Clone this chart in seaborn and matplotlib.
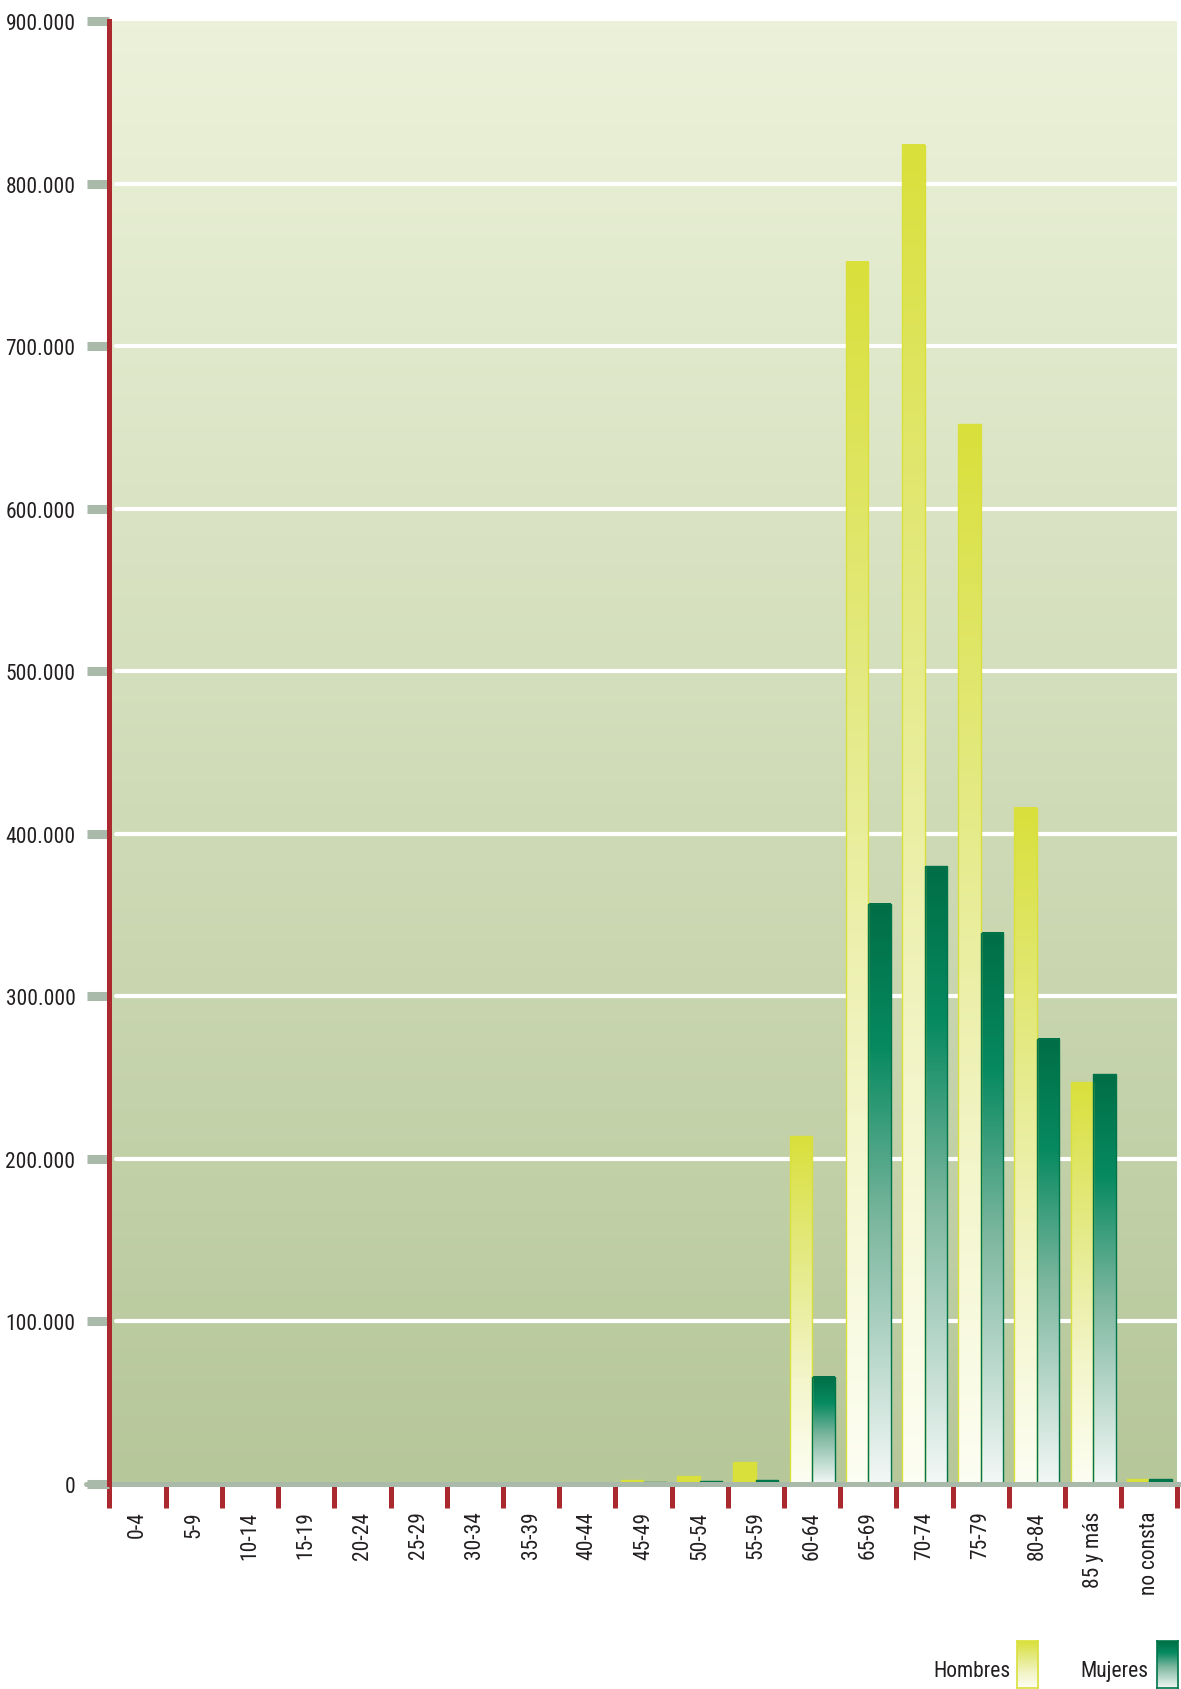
import os
import re
import numpy as np
import pandas as pd
import matplotlib
matplotlib.use('Agg')
import matplotlib.pyplot as plt
from matplotlib import font_manager
from matplotlib.colors import LinearSegmentedColormap
from matplotlib.ticker import FixedLocator, FuncFormatter
import seaborn as sns

### data
edades = ['0-4', '5-9', '10-14', '15-19', '20-24', '25-29', '30-34', '35-39',
          '40-44', '45-49', '50-54', '55-59', '60-64', '65-69', '70-74',
          '75-79', '80-84', '85 y más', 'no consta']
hombres = [0, 0, 0, 0, 0, 0, 0, 0, 0, 2500, 4700, 13700, 214000, 752000,
           824000, 652000, 416000, 247000, 3000]
mujeres = [0, 0, 0, 0, 0, 0, 0, 0, 0, 1000, 1800, 2500, 66000, 357000,
           380000, 339000, 274000, 252000, 3000]
sexos = ['Hombres', 'Mujeres']
y_ticks = [0, 100000, 200000, 300000, 400000, 500000, 600000, 700000, 800000, 900000]

df = pd.DataFrame({
    'edad': edades * 2,
    'valor': hombres + mujeres,
    'sexo': ['Hombres'] * len(edades) + ['Mujeres'] * len(edades),
})

### colours
amarillo = '#D9E03B'
verde = '#00744A'
rojo = '#A9292F'
gris = '#A9BAAA'
texto = '#231F20'

cmap_h = LinearSegmentedColormap.from_list(
    'h', [(0, '#FDFEF3'), (0.3, '#F3F5CA'), (0.6, '#E6EB8E'), (1, amarillo)])
cmap_m = LinearSegmentedColormap.from_list(
    'm', [(0, '#F3F8F6'), (0.45, '#7DB7A0'), (0.75, '#078A60'), (1, '#006E46')])
cmap_bg = LinearSegmentedColormap.from_list('bg', ['#B6C79A', '#ECF2D9'])

sns.set_theme(style='white')
plt.rcParams['font.family'] = ['Liberation Sans', 'DejaVu Sans']

### look for a condensed font, else a plain one
narrow_file = None
for f in font_manager.fontManager.ttflist:
    base = os.path.basename(f.fname).lower()
    if re.search(r'condensed|narrow', base) and not re.search(
            r'bold|italic|light|thin|black|oblique|semi|extra|medium|ultra', base):
        narrow_file = f.fname
        if 'liberation' in base or 'roboto' in base or 'noto' in base:
            break

if narrow_file:
    fs = 15.5
    def fp():
        return font_manager.FontProperties(fname=narrow_file, size=fs)
else:
    fs = 13.5
    def fp():
        return font_manager.FontProperties(family=['Liberation Sans', 'DejaVu Sans'], size=fs)

fig = plt.figure(figsize=(11.81, 16.90), dpi=100)
ax = fig.add_axes([0.0927, 0.1213, 0.9043, 0.8657])

sns.barplot(data=df, x='edad', y='valor', hue='sexo', hue_order=sexos,
            palette=[amarillo, verde], width=0.8, saturation=1,
            legend=False, ax=ax, zorder=3)

grad = np.linspace(0, 1, 256).reshape(-1, 1)

### per bar vertical gradient (small bars stay solid)
for cont, cm, col in zip(ax.containers, [cmap_h, cmap_m], [amarillo, verde]):
    for p in cont.patches:
        h = p.get_height()
        if h <= 0:
            p.set_visible(False)
            continue
        p.set_edgecolor(col)
        p.set_linewidth(1.0)
        p.set_zorder(4)
        if h < 40000:
            continue
        x0 = p.get_x()
        w = p.get_width()
        ax.imshow(grad, extent=(x0, x0 + w, 0, h), origin='lower',
                  aspect='auto', cmap=cm, zorder=3, interpolation='bilinear')
        p.set_facecolor('none')

### background gradient
ax.imshow(grad, extent=(0, 1, 0, 1), transform=ax.transAxes, origin='lower',
          aspect='auto', cmap=cmap_bg, zorder=0)

ax.set_xlim(-0.5, len(edades) - 0.5)
ax.set_ylim(0, 900000)

### gridlines
for v in y_ticks[1:-1]:
    ax.axhline(v, color='white', lw=3, zorder=1, xmin=0.006)

### baseline
ax.axhline(0, color=gris, lw=3.6, zorder=5, xmin=-0.022, xmax=1.01, clip_on=False)

### spines
for s in ['top', 'right', 'bottom']:
    ax.spines[s].set_visible(False)
ax.spines['left'].set_color(rojo)
ax.spines['left'].set_linewidth(3.6)
ax.spines['left'].set_zorder(6)

### y axis
ax.yaxis.set_major_locator(FixedLocator(y_ticks))
ax.yaxis.set_major_formatter(FuncFormatter(lambda v, pos: f'{int(v):,}'.replace(',', '.')))
ax.tick_params(axis='y', which='major', direction='out', length=16, width=6.5,
               color=gris, pad=8.5, labelcolor=texto, left=True)

### x axis
ax.set_xticks(range(len(edades)))
ax.set_xticklabels(edades, rotation=90, va='top', ha='center')
ax.xaxis.set_minor_locator(FixedLocator(np.arange(len(edades) + 1) - 0.5))
ax.tick_params(axis='x', which='major', length=0, pad=19, labelcolor=texto, bottom=True)
ax.tick_params(axis='x', which='minor', direction='out', length=17, width=3.6,
               color=rojo, bottom=True)
ax.set_xlabel('')
ax.set_ylabel('')

for lab in ax.get_yticklabels() + ax.get_xticklabels():
    lab.set_fontproperties(fp())

### legend
for nombre, cm, col, tx, sx in [('Hombres', cmap_h, amarillo, 1010, 1017),
                                ('Mujeres', cmap_m, verde, 1148, 1157)]:
    fig.text(tx / 1181, 1 - 1672 / 1690, nombre, ha='right', va='center',
             color=texto, fontproperties=fp())
    lax = fig.add_axes([sx / 1181, 1 / 1690, 21 / 1181, 47 / 1690])
    lax.imshow(grad, origin='lower', aspect='auto', cmap=cm, extent=(0, 1, 0, 1))
    lax.set_xticks([])
    lax.set_yticks([])
    for s in lax.spines.values():
        s.set_color(col)
        s.set_linewidth(1.2)

fig.savefig('out.png', dpi=100, facecolor='white')
